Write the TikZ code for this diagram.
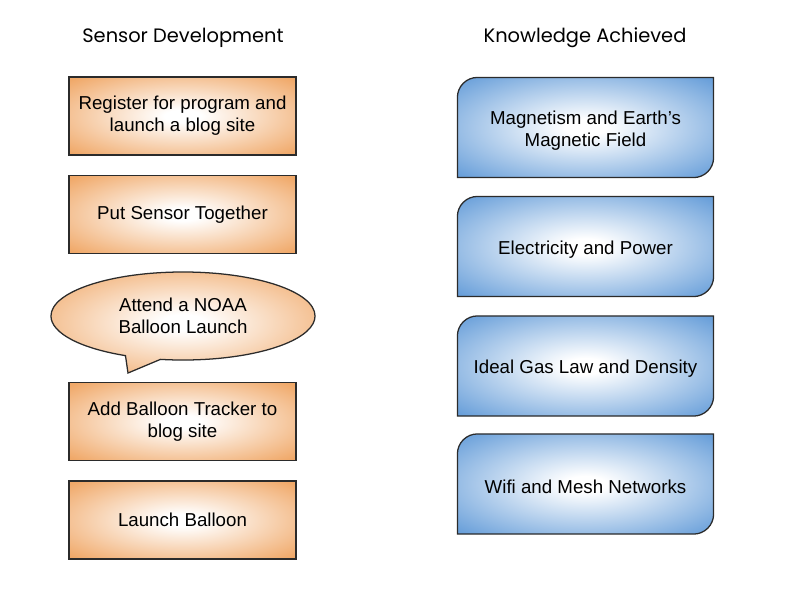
\documentclass[tikz,border=0pt]{standalone}
\usepackage{fontspec}
\setmainfont{Liberation Sans}
\newfontfamily\headfont{Poppins}
\usetikzlibrary{shapes.callouts}

\definecolor{stepedge}{HTML}{F0A868}
\definecolor{knowedge}{HTML}{6AA0DA}
\definecolor{boxline}{HTML}{2B2B2B}
\pgfdeclareradialshading{stepfade}{\pgfpoint{0bp}{0bp}}{color(0bp)=(white); color(4bp)=(white); color(34bp)=(stepedge); color(50bp)=(stepedge)}
\pgfdeclareradialshading{knowfade}{\pgfpoint{0bp}{0bp}}{color(0bp)=(white); color(4bp)=(white); color(34bp)=(knowedge); color(50bp)=(knowedge)}

\begin{document}
\begin{tikzpicture}[x=0.025cm, y=-0.025cm, thick,
	head/.style={font=\headfont\fontsize{13.8}{16}\selectfont},
	step box/.style={draw=boxline, line width=0.9pt, shading=stepfade, minimum width=5.675cm, minimum height=1.95cm, align=center, font=\fontsize{13.3}{15.6}\selectfont},
	know box/.style={minimum width=6.375cm, minimum height=2.475cm, inner sep=0pt, align=center, font=\fontsize{13.3}{15.6}\selectfont},
	know shade/.style={draw=boxline, line width=0.9pt, shading=knowfade}]
	\useasboundingbox (0,0) rectangle (800,600);
	% headings
	\node[head] (sensor) at (183,38) {Sensor Development};
	\node[head] (knowledge) at (585,38) {Knowledge Achieved};
	% left column
	\node[step box] (register) at (182.5,116) {Register for program and\\launch a blog site};
	\node[step box] (together) at (182.5,214.5) {Put Sensor Together};
	\node[ellipse callout, draw=boxline, line width=0.9pt, shading=stepfade, minimum width=6.6cm, minimum height=2.2cm, align=center, font=\fontsize{13.3}{15.6}\selectfont, callout absolute pointer={(128,373)}, callout pointer arc=16] (noaa) at (183,316) {Attend a NOAA\\Balloon Launch};
	\node[step box] (tracker) at (182.5,421.5) {Add Balloon Tracker to\\blog site};
	\node[step box] (launch) at (182.5,520) {Launch Balloon};
	% right column
	\node[know box] (magnet) at (585.5,127.5) {};
	\node[know box] (power) at (585.5,246.5) {};
	\node[know box] (gas) at (585.5,366) {};
	\node[know box] (wifi) at (585.5,484) {};
	\foreach \k in {magnet,power,gas,wifi}
		\shadedraw[know shade] (\k.south west) -- ([yshift=-0.5cm]\k.north west) arc[start angle=180, end angle=90, radius=0.5cm] -- (\k.north east) -- ([yshift=0.5cm]\k.south east) arc[start angle=0, end angle=-90, radius=0.5cm] -- cycle;
	\node[know box] at ([yshift=-2pt]magnet) {Magnetism and Earth’s\\Magnetic Field};
	\node[know box] at ([yshift=-2pt]power) {Electricity and Power};
	\node[know box] at ([yshift=-2pt]gas) {Ideal Gas Law and Density};
	\node[know box] at ([yshift=-2pt]wifi) {Wifi and Mesh Networks};
\end{tikzpicture}
\end{document}
